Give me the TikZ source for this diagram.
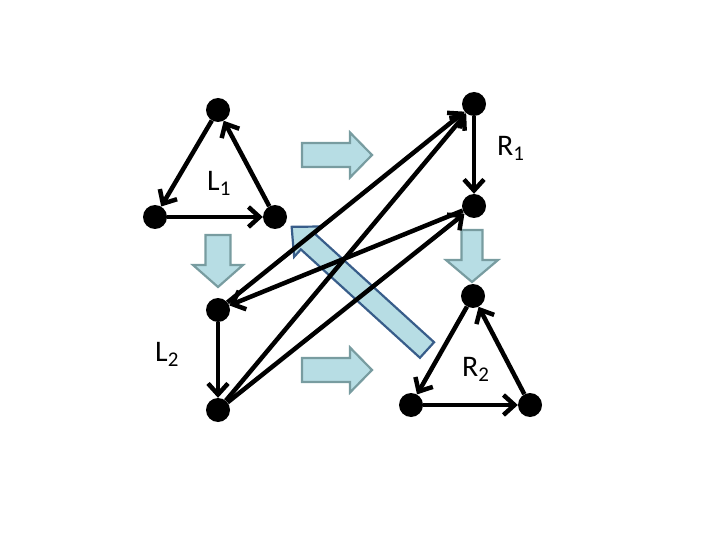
\documentclass[tikz,border=0pt]{standalone}
\usepackage{fontspec}
\setmainfont{Carlito}
\usetikzlibrary{arrows.meta}

\definecolor{arrowfill}{RGB}{183,221,228}
\definecolor{arrowedge}{RGB}{120,156,160}
\definecolor{backedge}{RGB}{56,93,138}

% block arrow: [style]{tail}{angle}{length}{half shaft}{half head}
\newcommand{\blockarrow}[6][]{%
  \begin{scope}[shift={(#2)},rotate=#3]
    \draw[bigarrow,#1] (0,-#5) -- ({#4-22},-#5) -- ({#4-22},-#6) -- (#4,0)
      -- ({#4-22},#6) -- ({#4-22},#5) -- (0,#5) -- cycle;
  \end{scope}}

\begin{document}
\begin{tikzpicture}[x=1bp,y=-1bp,>={Straight Barb[length=11bp,width=20bp]},
  dot/.style={circle,fill=black,inner sep=0pt,minimum size=24bp},
  link/.style={->,line width=4.5bp},
  bigarrow/.style={fill=arrowfill,draw=arrowedge,line width=2.2bp,line join=miter},
  lab/.style={anchor=base west,inner sep=0pt,font=\fontsize{30}{34}\selectfont}]
\useasboundingbox (0,0) rectangle (720,540);

% the rule arrows
\blockarrow{302,155}{0}{70}{12}{22.5}
\blockarrow{302,370}{0}{70}{12}{22.5}
\blockarrow{218,235}{-90}{52}{12.5}{25}
\blockarrow{472,230}{-90}{52}{10.5}{26}
\blockarrow[draw=backedge]{427,350}{137.7}{183}{10.5}{20.5}

% vertices
\node[dot] (l1t) at (218,110) {};
\node[dot] (l1l) at (155,217) {};
\node[dot] (l1r) at (275,217) {};
\node[dot] (r1t) at (474,104) {};
\node[dot] (r1b) at (474,206) {};
\node[dot] (l2t) at (218,310) {};
\node[dot] (l2b) at (218,410) {};
\node[dot] (r2t) at (473,296) {};
\node[dot] (r2l) at (411,405) {};
\node[dot] (r2r) at (530,405) {};

% labels
\node[lab] (L1) at (207,191) {L\textsubscript{1}};
\node[lab] (R1) at (497,156) {R\textsubscript{1}};
\node[lab] (L2) at (155,361) {L\textsubscript{2}};
\node[lab] (R2) at (462,376) {R\textsubscript{2}};

% edges
\draw[link] (l1t) -- (l1l);
\draw[link] (l1l) -- (l1r);
\draw[link] (l1r) -- (l1t);
\draw[link] (r1t) -- (r1b);
\draw[link] (l2t) -- (l2b);
\draw[link] (r2t) -- (r2l);
\draw[link] (r2l) -- (r2r);
\draw[link] (r2r) -- (r2t);
\draw[link] (l2t) -- (r1t);
\draw[link] (l2b) -- (r1t);
\draw[link] (r1b) -- (l2t);
\draw[link] (l2b) -- (r1b);
\end{tikzpicture}
\end{document}
